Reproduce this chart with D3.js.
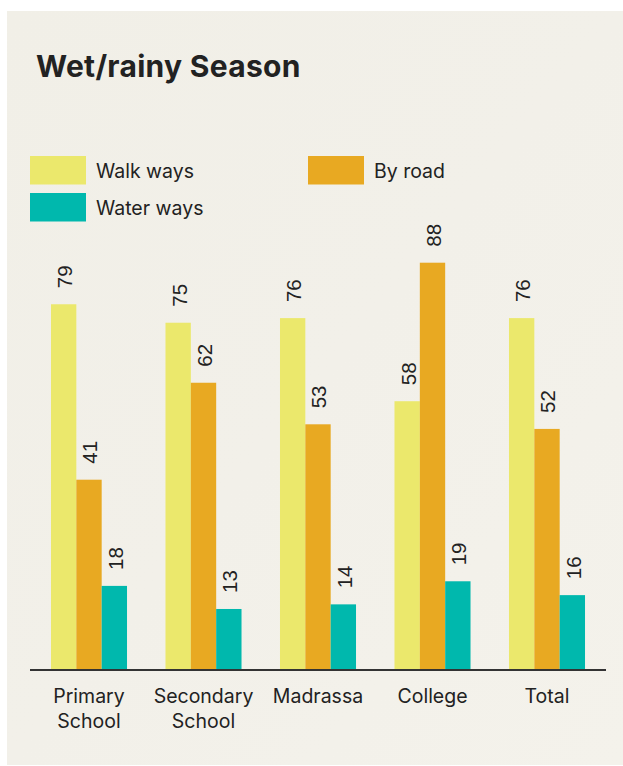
<!DOCTYPE html>
<html><head><meta charset="utf-8">
<script src="https://cdn.jsdelivr.net/npm/d3@7"></script>
<style>
html,body{margin:0;padding:0;background:#fff;}
svg{display:block;}
</style></head>
<body>
<svg id="chart" width="623" height="766"></svg>
<script>
const title = "Wet/rainy Season";
const categories = [["Primary","School"],["Secondary","School"],["Madrassa"],["College"],["Total"]];
const seriesNames = ["Walk ways","By road","Water ways"];
const walkWays = [79,75,76,58,76];
const byRoad = [41,62,53,88,52];
const waterWays = [18,13,14,19,16];
const colors = ["#ebe86c","#e8a922","#00b8ad"];

const svg = d3.select("#chart");
// paper background
const defs = svg.append("defs");
const grad = defs.append("linearGradient").attr("id","paper").attr("x1","0").attr("y1","0").attr("x2","1").attr("y2","1");
grad.append("stop").attr("offset","0").attr("stop-color","#f1efe7");
grad.append("stop").attr("offset","0.5").attr("stop-color","#f2f0e9");
grad.append("stop").attr("offset","1").attr("stop-color","#f4f2eb");
svg.append("rect").attr("x",7).attr("y",11).attr("width",616).attr("height",754).attr("fill","url(#paper)");

svg.append("text").attr("x",36).attr("y",77).text(title)
  .attr("font-family","Inter, 'Liberation Sans', sans-serif").attr("font-weight","700")
  .attr("font-size",30).attr("fill","#222").attr("letter-spacing","0.3");

// legend
const legendPos = [[30,156],[308,156],[30,193]];
seriesNames.forEach((n,i)=>{
  const g = svg.append("g").attr("transform",`translate(${legendPos[i][0]},${legendPos[i][1]})`);
  g.append("rect").attr("width",56).attr("height",28.5).attr("fill",colors[i]);
  g.append("text").attr("x",66).attr("y",22).text(n)
    .attr("font-family","Inter, 'Liberation Sans', sans-serif").attr("font-size",19.5).attr("fill","#222");
});

const x0 = d3.scaleBand().domain(d3.range(categories.length)).range([31.75,604.25]).paddingInner(0.336).paddingOuter(0.168);
const x1 = d3.scaleBand().domain(d3.range(3)).range([0,x0.bandwidth()]);
const y = d3.scaleLinear().domain([0,100]).range([669,207.3]);

const data = categories.map((c,i)=>[walkWays[i],byRoad[i],waterWays[i]]);
const groups = svg.selectAll("g.grp").data(data).join("g").attr("class","grp")
  .attr("transform",(d,i)=>`translate(${x0(i)},0)`);
groups.selectAll("rect").data(d=>d).join("rect")
  .attr("x",(d,j)=>x1(j)).attr("width",x1.bandwidth())
  .attr("y",d=>y(d)).attr("height",d=>y(0)-y(d)).attr("fill",(d,j)=>colors[j]);
groups.selectAll("text").data(d=>d).join("text")
  .attr("transform",(d,j)=>`translate(${x1(j)+x1.bandwidth()/2+1},${y(d)-16}) rotate(-90)`)
  .attr("dy","0.36em").text(d=>d)
  .attr("font-family","'Liberation Sans', Arial, sans-serif").attr("font-size",20.5).attr("fill","#222");

// axis
const axis = d3.axisBottom(x0).tickSize(0).tickFormat("");
const ax = svg.append("g").attr("transform","translate(0,670)").call(axis);
ax.select(".domain").attr("d","M30,0H606").attr("stroke","#333").attr("stroke-width",2);
ax.selectAll(".tick").each(function(d){
  const t = d3.select(this).append("text").attr("fill","#222")
    .attr("font-family","Inter, 'Liberation Sans', sans-serif").attr("font-size",19.5)
    .attr("text-anchor","middle");
  categories[d].forEach((line,k)=>{
    t.append("tspan").attr("x",0).attr("y",33+k*25).text(line);
  });
});
</script>
</body></html>
